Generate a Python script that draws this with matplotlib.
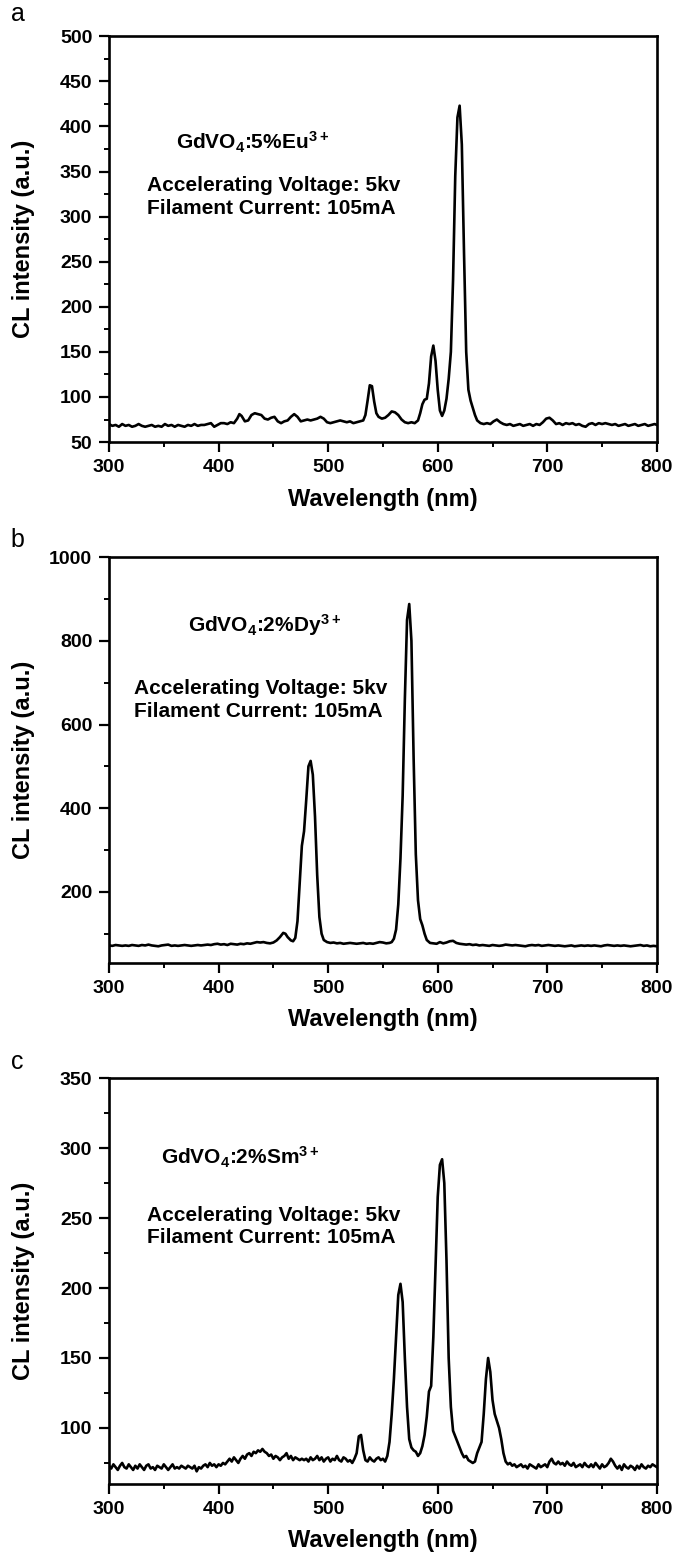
import matplotlib
matplotlib.use('Agg')
import matplotlib.pyplot as plt
from matplotlib.ticker import MultipleLocator

plt.rcParams['font.family'] = ['Liberation Sans', 'DejaVu Sans']
plt.rcParams['font.weight'] = 'bold'
plt.rcParams['mathtext.fontset'] = 'custom'
plt.rcParams['mathtext.bf'] = 'Liberation Sans:bold'
plt.rcParams['mathtext.rm'] = 'Liberation Sans:bold'
plt.rcParams['mathtext.default'] = 'bf'

# GdVO4:5%Eu3+ spectrum
wl_eu = [300, 303, 306, 309, 312, 315, 318, 321, 324, 327, 330, 333, 336, 339, 342, 345, 348, 351, 354, 357,
         360, 363, 366, 369, 372, 375, 378, 381, 384, 387, 390, 393, 396, 399, 402, 405, 408, 411, 414, 417,
         419, 421, 424, 427, 430, 433, 436, 439, 442, 445, 448, 451, 454, 457, 460, 463, 466, 469, 472, 475,
         478, 481, 484, 487, 490, 493, 496, 499, 502, 505, 508, 511, 514, 517, 520, 523, 526, 529, 532, 534,
         536, 538, 540, 542, 544, 546, 549, 552, 555, 558, 561, 564, 567, 570, 573, 576, 579, 582, 584, 586,
         588, 590, 592, 594, 596, 598, 600, 602, 604, 606, 608, 610, 612, 614, 616, 618, 620, 622, 624, 626,
         628, 630, 632, 634, 636, 639, 642, 645, 648, 651, 654, 657, 660, 663, 666, 669, 672, 675, 678, 681,
         684, 687, 690, 693, 696, 699, 702, 705, 708, 711, 714, 717, 720, 723, 726, 729, 732, 735, 738, 741,
         744, 747, 750, 753, 756, 759, 762, 765, 768, 771, 774, 777, 780, 783, 786, 789, 792, 795, 798, 800]
cl_eu = [70, 68, 69, 67, 70, 68, 69, 67, 68, 70, 68, 67, 68, 69, 67, 68, 67, 70, 68, 69,
         67, 69, 68, 67, 69, 68, 70, 68, 69, 69, 70, 71, 67, 69, 71, 71, 70, 72, 71, 76,
         81, 79, 73, 74, 80, 82, 81, 80, 76, 75, 77, 78, 73, 71, 73, 74, 78, 81, 78, 73,
         74, 75, 74, 75, 76, 78, 76, 72, 71, 72, 73, 74, 73, 72, 73, 71, 72, 73, 74, 80,
         96, 113, 112, 95, 82, 78, 76, 77, 80, 84, 83, 80, 75, 72, 71, 72, 71, 74, 82, 92,
         97, 98, 115, 145, 157, 140, 108, 85, 79, 85, 98, 120, 150, 230, 345, 410, 423, 380, 260, 150,
         108, 96, 88, 80, 74, 71, 70, 71, 70, 73, 75, 72, 70, 69, 70, 68, 69, 70, 68, 69,
         70, 68, 70, 69, 72, 76, 77, 74, 70, 71, 69, 71, 70, 71, 69, 70, 68, 67, 70, 71,
         69, 71, 70, 71, 70, 69, 70, 68, 69, 70, 68, 69, 70, 68, 69, 70, 68, 69, 70, 69]

# GdVO4:2%Dy3+ spectrum
wl_dy = [300, 303, 306, 309, 312, 315, 318, 321, 324, 327, 330, 333, 336, 339, 342, 345, 348, 351, 354, 357,
         360, 363, 366, 369, 372, 375, 378, 381, 384, 387, 390, 393, 396, 399, 402, 405, 408, 411, 414, 417,
         420, 423, 426, 429, 432, 435, 438, 441, 444, 447, 450, 453, 456, 459, 461, 463, 466, 468, 470, 472,
         474, 476, 478, 480, 482, 484, 486, 488, 490, 492, 494, 496, 499, 502, 505, 508, 511, 514, 517, 520,
         523, 526, 529, 532, 535, 538, 541, 544, 547, 550, 553, 556, 558, 560, 562, 564, 566, 568, 570, 572,
         574, 576, 578, 580, 582, 584, 586, 588, 590, 593, 596, 599, 602, 605, 608, 611, 614, 617, 620, 623,
         626, 629, 632, 635, 638, 641, 644, 647, 650, 653, 656, 659, 662, 665, 668, 671, 674, 677, 680, 683,
         686, 689, 692, 695, 698, 701, 704, 707, 710, 713, 716, 719, 722, 725, 728, 731, 734, 737, 740, 743,
         746, 749, 752, 755, 758, 761, 764, 767, 770, 773, 776, 779, 782, 785, 788, 791, 794, 797, 800]
cl_dy = [72, 71, 73, 72, 71, 72, 71, 73, 72, 71, 73, 72, 74, 72, 71, 70, 72, 73, 74, 71,
         72, 71, 72, 73, 72, 71, 72, 73, 72, 73, 74, 73, 75, 76, 74, 75, 73, 76, 75, 74,
         76, 75, 77, 76, 78, 80, 79, 80, 78, 77, 79, 84, 92, 102, 100, 92, 84, 82, 90, 130,
         220, 310, 345, 420, 500, 513, 480, 380, 240, 140, 100, 85, 80, 78, 79, 77, 78, 76, 77, 78,
         77, 76, 77, 78, 76, 77, 76, 78, 80, 79, 77, 78, 80, 88, 110, 170, 280, 430, 660, 850,
         888, 800, 520, 290, 180, 135, 120, 100, 85, 78, 77, 76, 80, 77, 79, 82, 83, 78, 76, 75,
         74, 75, 73, 74, 72, 73, 72, 71, 73, 72, 71, 72, 74, 73, 72, 73, 72, 71, 70, 72,
         73, 72, 73, 71, 72, 73, 72, 71, 72, 71, 70, 71, 72, 70, 71, 72, 71, 72, 71, 72,
         71, 70, 72, 73, 72, 71, 72, 71, 72, 71, 70, 71, 72, 73, 71, 72, 70, 71, 70]

# GdVO4:2%Sm3+ spectrum
wl_sm = list(range(300, 802, 2))
cl_sm = [73, 71, 74, 72, 70, 73, 75, 72, 71, 74, 72, 70, 73, 71, 74, 72, 70, 73, 74, 71,
         72, 70, 73, 72, 71, 74, 72, 70, 72, 74, 71, 72, 71, 73, 72, 71, 73, 72, 71, 73,
         69, 72, 71, 73, 74, 72, 75, 73, 74, 72, 74, 73, 75, 74, 76, 78, 76, 79, 77, 75,
         78, 80, 78, 81, 82, 80, 83, 82, 84, 83, 85, 83, 82, 80, 81, 78, 80, 79, 77, 79,
         80, 82, 78, 80, 77, 79, 78, 77, 78, 77, 78, 76, 79, 77, 78, 80, 77, 79, 76, 78,
         79, 76, 78, 77, 80, 77, 76, 79, 78, 76, 77, 75, 78, 82, 94, 95, 84, 77, 76, 79,
         77, 76, 78, 79, 77, 78, 76, 80, 90, 110, 135, 165, 195, 203, 190, 150, 115, 92, 86, 84,
         83, 80, 82, 87, 95, 108, 126, 130, 165, 215, 265, 288, 292, 275, 220, 150, 115, 98, 94, 90,
         86, 82, 79, 80, 77, 76, 75, 76, 82, 86, 90, 110, 135, 150, 140, 120, 110, 105, 100, 92,
         82, 76, 74, 75, 73, 74, 72, 73, 74, 72, 73, 71, 74, 73, 72, 71, 74, 72, 73, 74,
         72, 76, 78, 75, 74, 76, 74, 75, 73, 76, 74, 73, 75, 72, 73, 74, 72, 75, 73, 72,
         74, 72, 75, 73, 71, 74, 72, 73, 75, 78, 76, 73, 71, 73, 70, 74, 72, 71, 73, 72,
         70, 73, 71, 74, 72, 71, 73, 72, 74, 73, 72]

panels = [
    ('a', wl_eu, cl_eu, (50, 500), 50, 25, r'GdVO$_4$:5%Eu$^{3+}$', (361, 382), (335, 322)),
    ('b', wl_dy, cl_dy, (30, 1000), 200, 100, r'GdVO$_4$:2%Dy$^{3+}$', (372, 838), (323, 658)),
    ('c', wl_sm, cl_sm, (60, 350), 50, 25, r'GdVO$_4$:2%Sm$^{3+}$', (347, 293), (335, 244)),
]
axes_bottoms = [0.7157, 0.3807, 0.0457]
label_y = [1 - 14 / 1555, 1 - 540 / 1555, 1 - 1062 / 1555]

fig = plt.figure(figsize=(6.73, 15.55), dpi=100)

for (tag, wl, cl, ylim, major, minor, name, name_xy, cond_xy), b, ly in zip(panels, axes_bottoms, label_y):
    ax = fig.add_axes([0.162, b, 0.814, 0.261])
    ax.plot(wl, cl, color='black', lw=1.9)
    ax.set_xlim(300, 800)
    ax.set_ylim(*ylim)
    ax.xaxis.set_major_locator(MultipleLocator(100))
    ax.xaxis.set_minor_locator(MultipleLocator(50))
    ax.yaxis.set_major_locator(MultipleLocator(major))
    ax.yaxis.set_minor_locator(MultipleLocator(minor))
    ax.tick_params(which='major', direction='out', length=7, width=1.6, labelsize=14, pad=5)
    ax.tick_params(which='minor', direction='out', length=3.5, width=1.4)
    for s in ax.spines.values():
        s.set_linewidth(1.9)
    ax.set_xlabel('Wavelength (nm)', fontsize=17, fontweight='bold')
    ax.set_ylabel('CL intensity (a.u.)', fontsize=17, fontweight='bold')
    ax.xaxis.set_label_coords(0.5, -0.112)
    ax.yaxis.set_label_coords(-0.135, 0.5)

    ax.text(name_xy[0], name_xy[1], name, fontsize=15, fontweight='bold', va='center')
    ax.text(cond_xy[0], cond_xy[1], 'Accelerating Voltage: 5kv\nFilament Current: 105mA',
            fontsize=15, fontweight='bold', va='center', linespacing=1.25)

    fig.text(0.026, ly, tag, fontsize=18, fontweight='normal', ha='center', va='center')

fig.savefig('out.png', dpi=100)
